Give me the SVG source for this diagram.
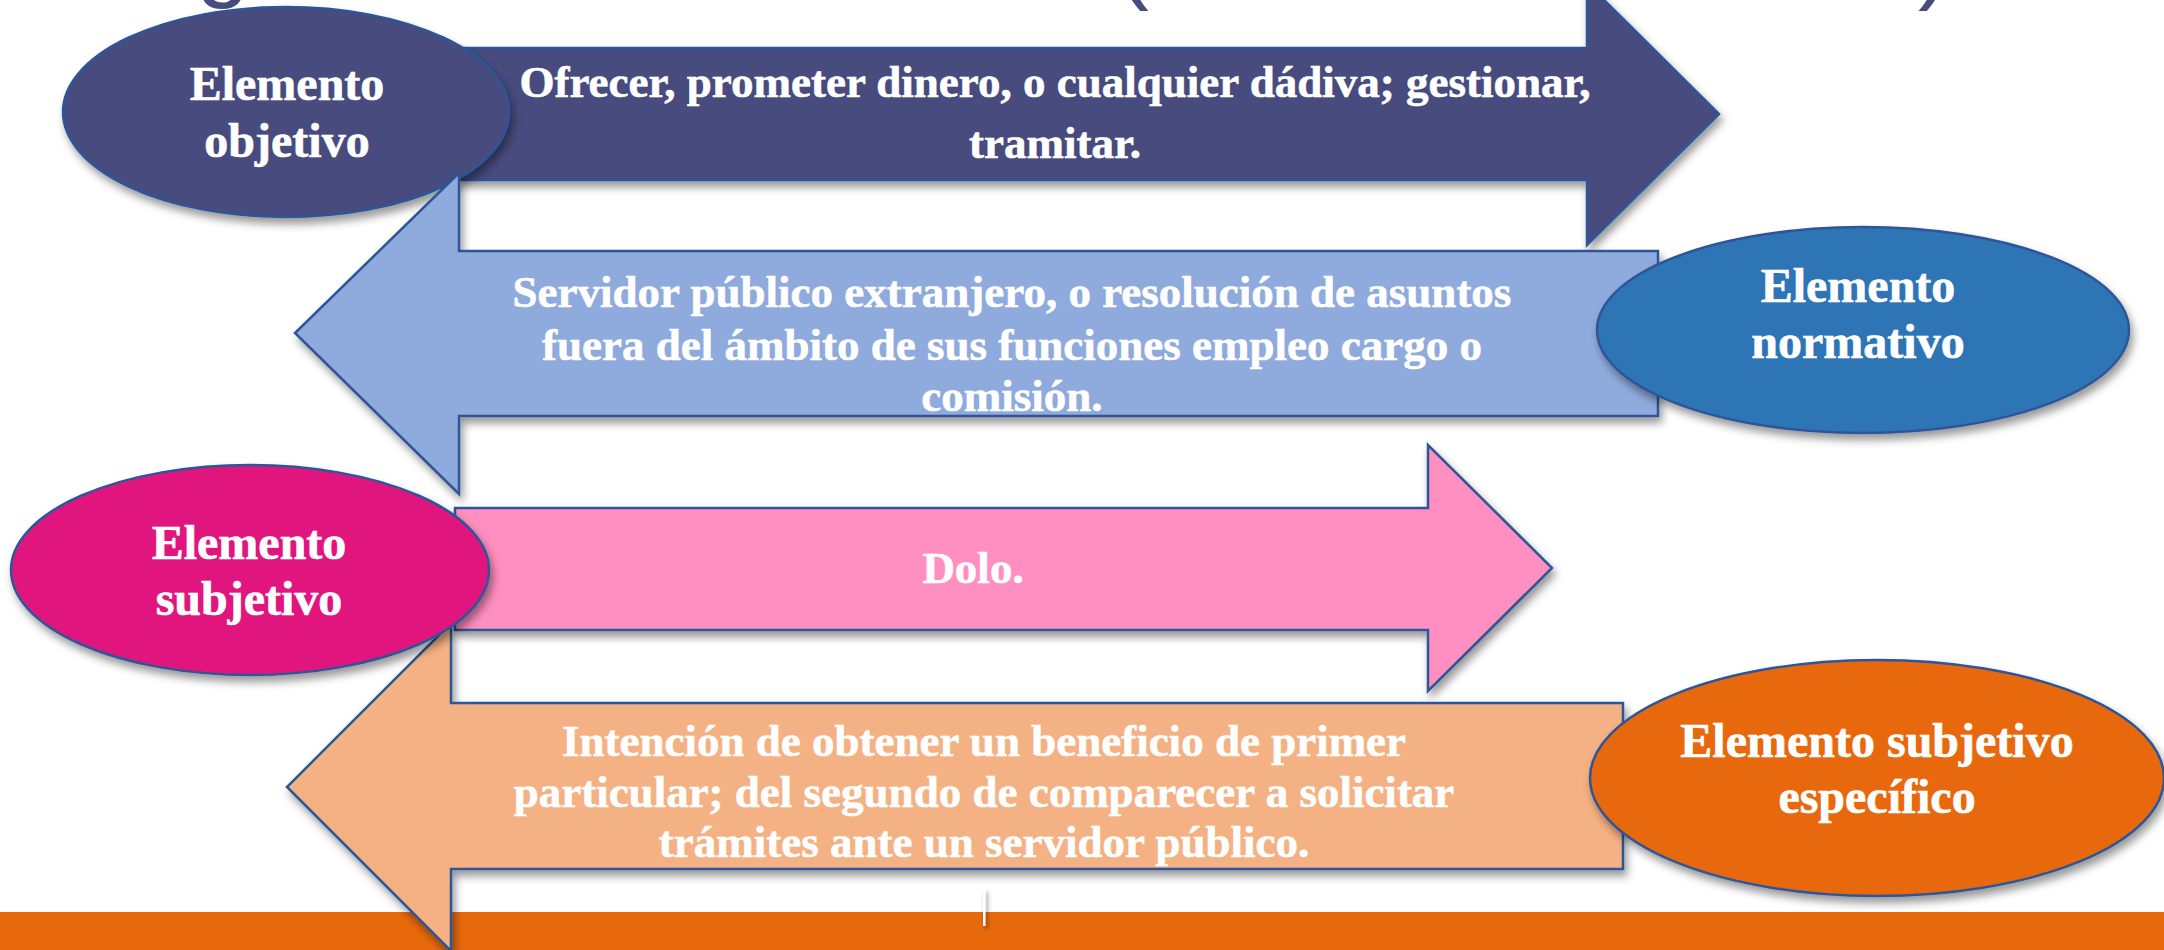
<svg xmlns="http://www.w3.org/2000/svg" width="2164" height="950" viewBox="0 0 2164 950">
  <defs>
    <filter id="sh" x="-10%" y="-10%" width="125%" height="130%">
      <feDropShadow dx="3" dy="6" stdDeviation="4" flood-color="#000" flood-opacity="0.4"/>
    </filter>
    <filter id="shu" filterUnits="userSpaceOnUse" x="970" y="880" width="30" height="60">
      <feDropShadow dx="2" dy="3" stdDeviation="2" flood-color="#000" flood-opacity="0.45"/>
    </filter>
    <style>
      .shape { stroke: #2F5597; stroke-width: 2.5; filter: url(#sh); }
      .atxt { font-family: "Liberation Serif", "Times New Roman", serif; font-weight: bold; font-size: 45px; fill: #FFFFFF; stroke: #FFFFFF; stroke-width: 0.6; text-anchor: middle; }
      .etxt { font-family: "Liberation Serif", "Times New Roman", serif; font-weight: bold; font-size: 48px; fill: #FFFFFF; stroke: #FFFFFF; stroke-width: 0.6; text-anchor: middle; }
      .title { font-family: "Liberation Sans", Arial, sans-serif; font-size: 96px; fill: #464C7E; text-anchor: middle; }
    </style>
  </defs>
  <rect width="2164" height="950" fill="#FFFFFF"/>

  <!-- title remnants cut off at top edge, as in the reference -->
  <g id="title">
    <text class="title" x="223" y="-11">g</text>
    <text class="title" x="1133" y="-9">(</text>
    <text class="title" x="1934" y="-9">)</text>
  </g>

  <rect id="bottom-bar" x="0" y="912" width="2164" height="38" fill="#E8690B"/>

  <g id="connectors">
    <g id="arrow1">
      <polygon class="shape" fill="#464C7E" points="460,48 1587,48 1587,-17 1719,114 1587,245 1587,180 460,180"/>
      <text class="atxt" x="1055" y="97">Ofrecer, prometer dinero, o cualquier dádiva; gestionar,</text>
      <text class="atxt" x="1055" y="158">tramitar.</text>
    </g>
  </g>

  <g id="node-objetivo">
    <ellipse class="shape" fill="#464C7E" cx="286" cy="112" rx="223" ry="105"/>
    <text class="etxt" x="287" y="100">Elemento</text>
    <text class="etxt" x="287" y="157">objetivo</text>
  </g>

  <g id="arrow2">
    <polygon class="shape" fill="#8FAADC" points="1658,251 459,251 459,173 295,333 459,494 459,416 1658,416"/>
    <text class="atxt" x="1012" y="307">Servidor público extranjero, o resolución de asuntos</text>
    <text class="atxt" x="1012" y="360">fuera del ámbito de sus funciones empleo cargo o</text>
    <text class="atxt" x="1012" y="411">comisión.</text>
  </g>

  <g id="node-normativo">
    <ellipse class="shape" fill="#2E74B5" cx="1863" cy="330" rx="266" ry="103"/>
    <text class="etxt" x="1858" y="302">Elemento</text>
    <text class="etxt" x="1858" y="358">normativo</text>
  </g>

  <g id="arrow3">
    <polygon class="shape" fill="#FF8FC0" points="455,508 1428,508 1428,445 1552,568 1428,691 1428,630 455,630"/>
    <text class="atxt" x="973" y="583">Dolo.</text>
  </g>

  <g id="arrow4">
    <polygon class="shape" fill="#F4B183" points="1623,703 451,703 451,623 287,787 451,951 451,869 1623,869"/>
    <text class="atxt" x="984" y="756">Intención de obtener un beneficio de primer</text>
    <text class="atxt" x="984" y="807">particular; del segundo de comparecer a solicitar</text>
    <text class="atxt" x="984" y="857">trámites ante un servidor público.</text>
  </g>

  <g id="node-subjetivo">
    <ellipse class="shape" fill="#E0197E" cx="250" cy="570" rx="239" ry="105"/>
    <text class="etxt" x="249" y="559">Elemento</text>
    <text class="etxt" x="249" y="615">subjetivo</text>
  </g>

  <g id="node-subjetivo-especifico">
    <ellipse class="shape" fill="#E8690B" cx="1877" cy="778" rx="287" ry="118"/>
    <text class="etxt" x="1877" y="757">Elemento subjetivo</text>
    <text class="etxt" x="1877" y="813">específico</text>
  </g>

  <rect id="cursor-mark" x="983" y="889" width="2.5" height="37" fill="#FFFFFF" filter="url(#shu)"/>
</svg>
